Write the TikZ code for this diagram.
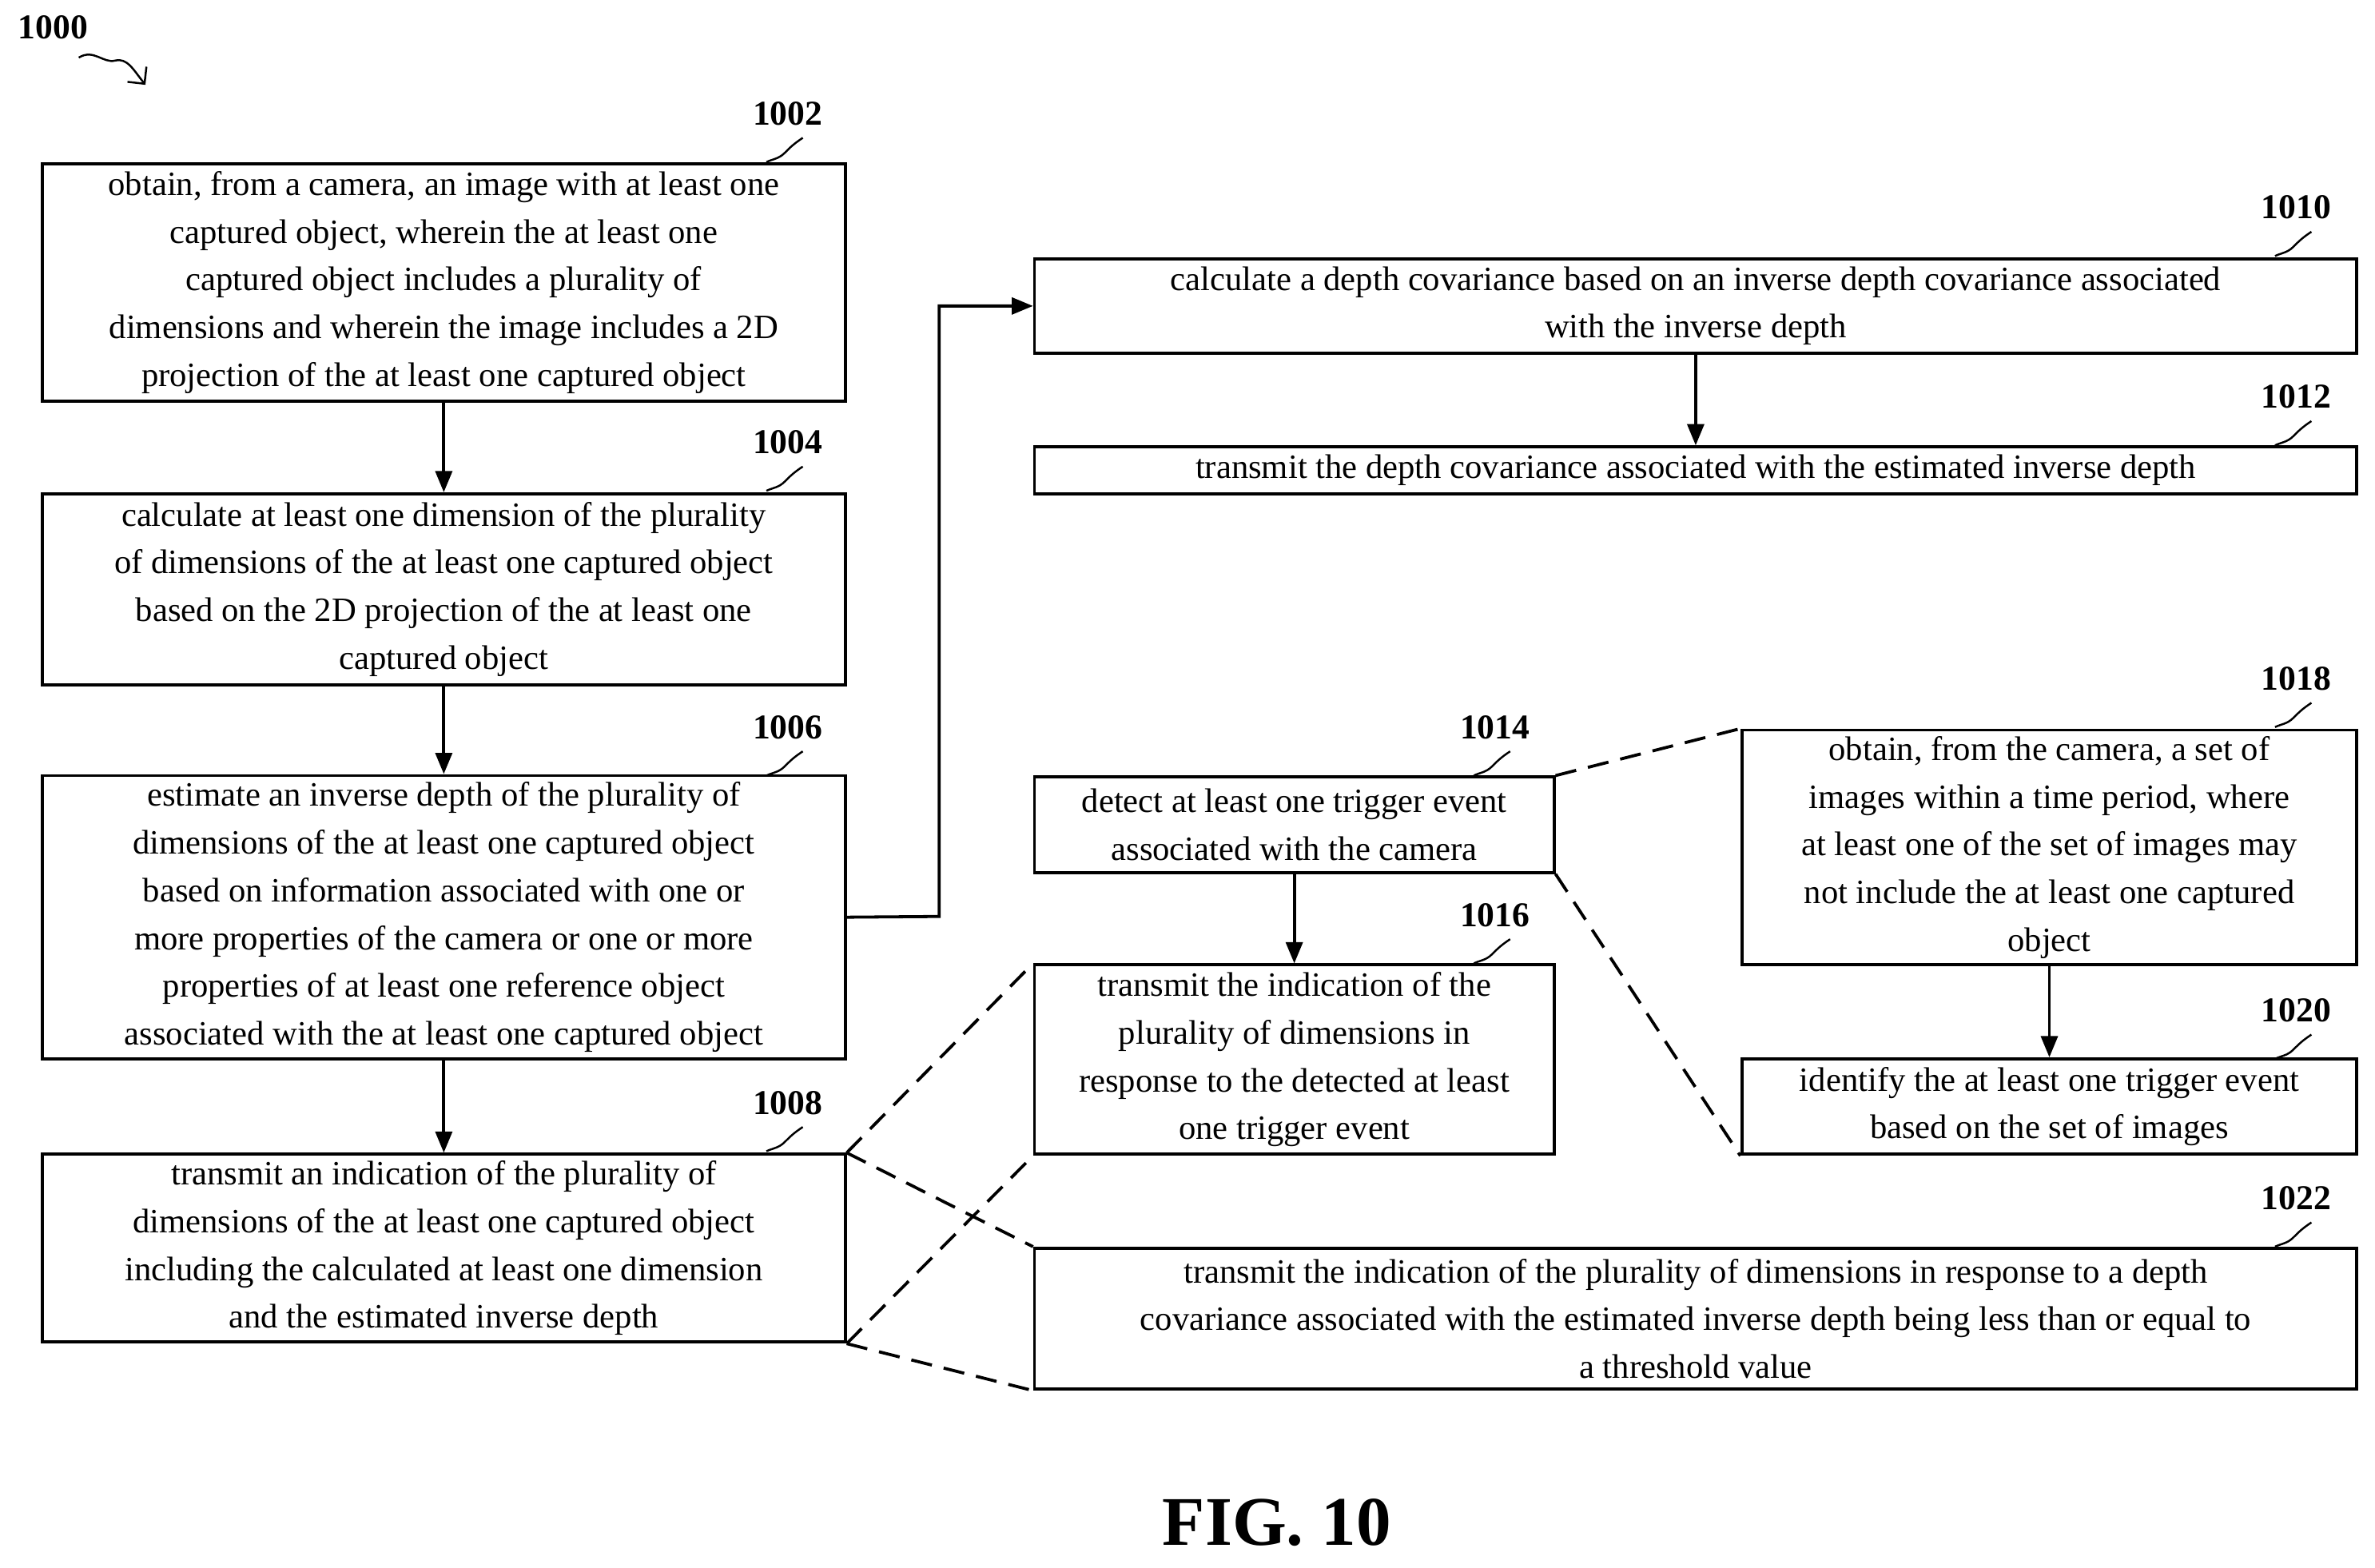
\documentclass[tikz,border=0pt]{standalone}
\usepackage{fontspec}
\setmainfont{Liberation Serif}
\usetikzlibrary{arrows.meta}

\tikzset{
  box/.style={draw, line width=2pt, inner sep=2pt, align=center,
    font=\fontsize{22.5}{31.5}\selectfont},
  flow/.style={line width=2pt, -{Triangle[length=14pt,width=11pt]}},
  link/.style={line width=2pt, dash pattern=on 14pt off 8pt},
  tag/.style={font=\bfseries\fontsize{23}{26}\selectfont},
  hook/.style={line width=1.3pt}
}
\newcommand{\stepbox}[6]{% name, x1, y1, x2, y2, text
  \node[box, minimum width={#4-#2}, minimum height={#5-#3}]
    (#1) at ({(#2+#4)/2},{(#3+#5)/2}) {#6};}
\newcommand{\steptag}[3]{% x, y, text
  \node[tag] (t#3) at (#1,#2) {#3};
  \draw[hook] (#1+10,#2+16) .. controls (#1+4,#2+20) and (#1+2,#2+22) .. (#1-2,#2+26)
    .. controls (#1-6,#2+30) and (#1-10,#2+30) .. (#1-14,#2+32);}

\begin{document}
\begin{tikzpicture}[x=1pt,y=1pt,yscale=-1]
\useasboundingbox (0,0) rectangle (1568,1035);

% steps
\stepbox{s1002}{28}{108}{558}{265}{obtain, from a camera, an image with at least one\\ captured object, wherein the at least one\\ captured object includes a plurality of\\ dimensions and wherein the image includes a 2D\\ projection of the at least one captured object}
\stepbox{s1004}{28}{326}{558}{452}{calculate at least one dimension of the plurality\\ of dimensions of the at least one captured object\\ based on the 2D projection of the at least one\\ captured object}
\stepbox{s1006}{28}{512}{558}{699}{estimate an inverse depth of the plurality of\\ dimensions of the at least one captured object\\ based on information associated with one or\\ more properties of the camera or one or more\\ properties of at least one reference object\\ associated with the at least one captured object}
\stepbox{s1008}{28}{762}{558}{886}{transmit an indication of the plurality of\\ dimensions of the at least one captured object\\ including the calculated at least one dimension\\ and the estimated inverse depth}
\stepbox{s1010}{683}{171}{1556}{233}{calculate a depth covariance based on an inverse depth covariance associated\\ with the inverse depth}
\stepbox{s1012}{683}{295}{1556}{326}{transmit the depth covariance associated with the estimated inverse depth}
\stepbox{s1014}{683}{513}{1026}{576}{detect at least one trigger event\\ associated with the camera}
\stepbox{s1016}{683}{637}{1026}{762}{transmit the indication of the\\ plurality of dimensions in\\ response to the detected at least\\ one trigger event}
\stepbox{s1018}{1150}{482}{1556}{637}{obtain, from the camera, a set of\\ images within a time period, where\\ at least one of the set of images may\\ not include the at least one captured\\ object}
\stepbox{s1020}{1150}{699}{1556}{762}{identify the at least one trigger event\\ based on the set of images}
\stepbox{s1022}{683}{824}{1556}{917}{transmit the indication of the plurality of dimensions in response to a depth\\ covariance associated with the estimated inverse depth being less than or equal to\\ a threshold value}

% labels
\steptag{520}{75}{1002}
\steptag{520}{292}{1004}
\steptag{520}{480}{1006}
\steptag{520}{728}{1008}
\steptag{1516}{137}{1010}
\steptag{1516}{262}{1012}
\steptag{987}{480}{1014}
\steptag{987}{604}{1016}
\steptag{1516}{448}{1018}
\steptag{1516}{667}{1020}
\steptag{1516}{791}{1022}
\node[tag] (t1000) at (35,18) {1000};
\draw[hook, -{Straight Barb[length=8pt]}] (52,38) .. controls (62,32) and (68,42) .. (76,40)
  .. controls (84,38) and (88,46) .. (96,56);
\node[font=\bfseries\fontsize{46}{50}\selectfont] (fig) at (843,1005) {FIG. 10};

% arrows
\draw[flow] (s1002) -- (s1004);
\draw[flow] (s1004) -- (s1006);
\draw[flow] (s1006) -- (s1008);
\draw[flow] (s1006.east) -- (620,605) |- (s1010.west);
\draw[flow] (s1010) -- (s1012);
\draw[flow] (s1014) -- (s1016);
\draw[flow] (s1018) -- (s1020);

% dashed links
\draw[link] (s1008.north east) -- (s1016.north west);
\draw[link] (s1008.south east) -- (s1016.south west);
\draw[link] (s1008.north east) -- (s1022.north west);
\draw[link] (s1008.south east) -- (s1022.south west);
\draw[link] (s1014.north east) -- (s1018.north west);
\draw[link] (s1014.south east) -- (s1020.south west);
\end{tikzpicture}
\end{document}
